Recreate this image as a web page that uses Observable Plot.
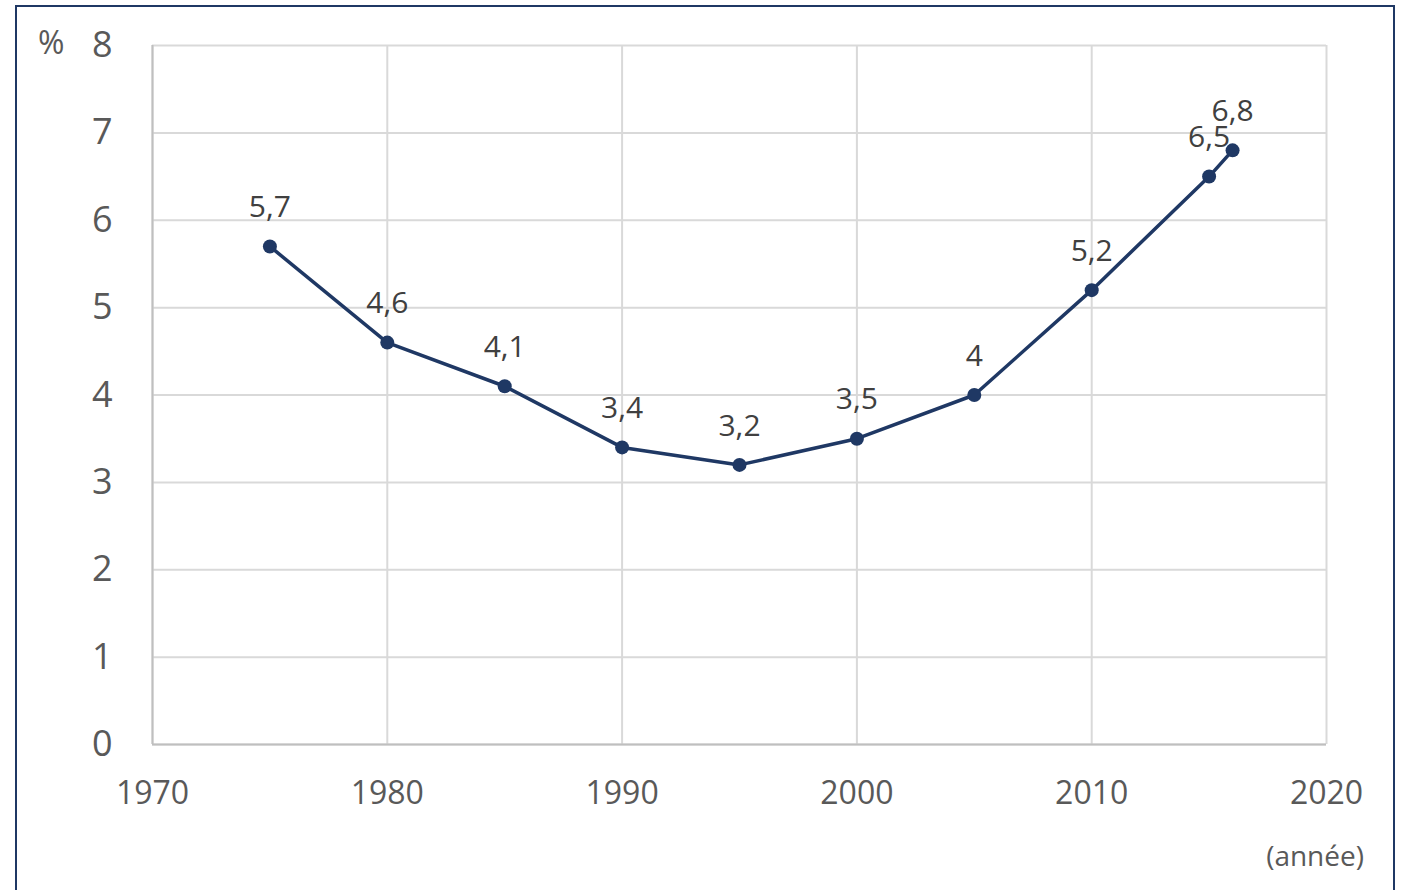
<!DOCTYPE html>
<html>
<head>
<meta charset="utf-8">
<script src="https://cdn.jsdelivr.net/npm/d3@7"></script>
<script src="https://cdn.jsdelivr.net/npm/@observablehq/plot@0.6"></script>
<style>
  html, body { margin: 0; padding: 0; background: #fff; overflow: hidden; }
  #wrap { position: relative; width: 1402px; height: 890px; }
  #frame { position: absolute; left: 15px; top: 5px; width: 1380px; height: 900px; border: 2px solid #1f3864; box-sizing: border-box; pointer-events: none; }
  #unit { position: absolute; left: 38px; top: 20px; font: 32px "Open Sans", sans-serif; color: #595959; }
  #xunit { position: absolute; right: 38px; top: 836px; font: 28px "Open Sans", sans-serif; color: #595959; }
</style>
</head>
<body>
<div id="wrap">
  <div id="chart"></div>
  <div id="frame"></div>
  <div id="unit">%</div>
  <div id="xunit">(année)</div>
</div>
<script>
const years = [1975, 1980, 1985, 1990, 1995, 2000, 2005, 2010, 2015, 2016];
const values = [5.7, 4.6, 4.1, 3.4, 3.2, 3.5, 4.0, 5.2, 6.5, 6.8];
const labels = ["5,7", "4,6", "4,1", "3,4", "3,2", "3,5", "4", "5,2", "6,5", "6,8"];
const xTicks = [1970, 1980, 1990, 2000, 2010, 2020];
const yTicks = [0, 1, 2, 3, 4, 5, 6, 7, 8];

const data = years.map((y, i) => ({year: y, value: values[i], label: labels[i]}));
const navy = "#1f3864";

const chart = Plot.plot({
  width: 1402,
  height: 890,
  marginLeft: 152,
  marginRight: 76,
  marginTop: 45,
  marginBottom: 146,
  style: {fontFamily: "'Open Sans', sans-serif", color: "#595959", background: "#fff"},
  x: {domain: [1970, 2020], ticks: xTicks, tickFormat: d => String(d), tickSize: 0, tickPadding: 36, label: null},
  y: {domain: [0, 8], ticks: yTicks, tickFormat: d => String(d), tickSize: 0, tickPadding: 40, label: null},
  marks: [
    Plot.ruleX(xTicks, {stroke: "#d9d9d9", strokeWidth: 2}),
    Plot.ruleY(yTicks, {stroke: "#d9d9d9", strokeWidth: 2}),
    Plot.ruleX([1970], {stroke: "#bfbfbf", strokeWidth: 2}),
    Plot.ruleY([0], {stroke: "#bfbfbf", strokeWidth: 2}),
    Plot.axisX({ticks: xTicks, tickFormat: d => String(d), tickSize: 0, tickPadding: 37, fontSize: 32, fill: "#595959", label: null}),
    Plot.axisY({ticks: yTicks, tickFormat: d => String(d), tickSize: 0, tickPadding: 40, fontSize: 36, fill: "#595959", label: null}),
    Plot.line(data, {x: "year", y: "value", stroke: navy, strokeWidth: 3.5}),
    Plot.dot(data, {x: "year", y: "value", fill: navy, r: 7}),
    Plot.text(data, {x: "year", y: "value", text: "label", dy: -39, fontSize: 30, fill: "#404040"})
  ]
});
document.getElementById("chart").appendChild(chart);
</script>
</body>
</html>
